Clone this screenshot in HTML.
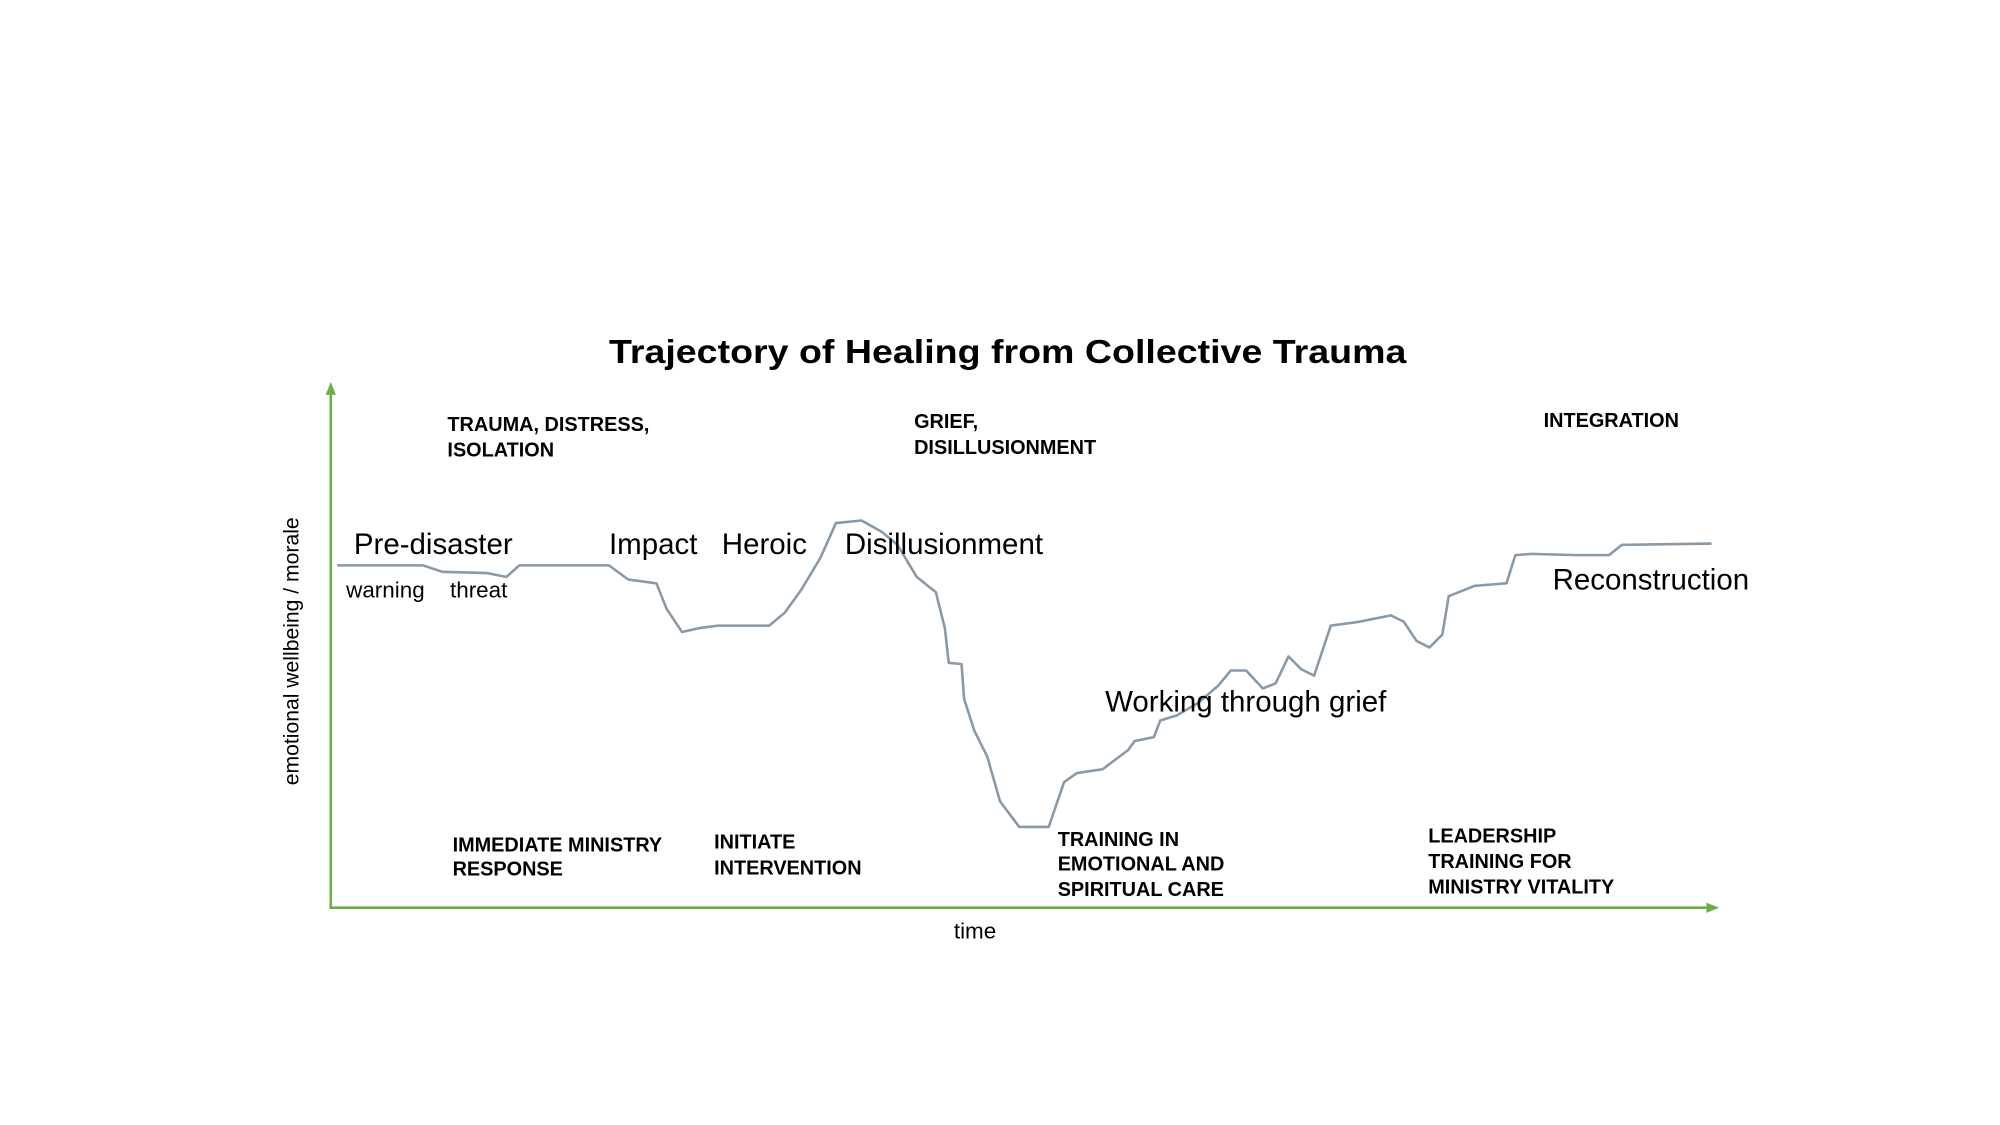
<!DOCTYPE html>
<html><head><meta charset="utf-8"><style>html,body{margin:0;padding:0;background:#fff}svg{display:block}</style></head>
<body>
<svg width="2000" height="1125" viewBox="0 0 1560 877.5" preserveAspectRatio="none" xmlns="http://www.w3.org/2000/svg">
<rect width="1560" height="877.5" fill="#fff"/>
<g font-family="Liberation Sans, sans-serif" fill="#000">
<text x="786" y="283" text-anchor="middle" font-size="26" font-weight="bold" textLength="622" lengthAdjust="spacingAndGlyphs">Trajectory of Healing from Collective Trauma</text>
</g>
<g stroke="#70ad47" stroke-width="2" fill="none">
<line x1="258" y1="304" x2="258" y2="709"/>
<line x1="257" y1="708" x2="1334" y2="708"/>
</g>
<polygon points="258,298 254,308 262,308" fill="#70ad47"/>
<polygon points="1341,708 1331,704 1331,712" fill="#70ad47"/>
<polyline fill="none" stroke="#8899a8" stroke-width="2" stroke-linejoin="round" points="263,441 330,441 345,446 380,447 395,450 405,441 475,441 490,452 512,455 520,475 532,493 545,490 560,488 600,488 612,478 625,460 640,435 652,408 672,406 688,415 700,425 715,450 730,462 737,490 740,517 750,518 752,545 760,570 770,590 780,625 795,645 818,645 830,610 840,603 860,600 880,585 885,578 900,575 905,562 918,558 935,548 950,535 960,523 972,523 985,537 995,533 1005,512 1015,522 1025,527 1038,488 1060,485 1085,480 1095,485 1105,500 1115,505 1125,495 1130,465 1150,457 1175,455 1182,433 1195,432 1230,433 1255,433 1265,425 1335,424"/>
<g font-family="Liberation Sans, sans-serif" fill="#000" font-size="23">
<text x="276" y="432">Pre-disaster</text>
<text x="475" y="432">Impact</text>
<text x="563" y="432">Heroic</text>
<text x="659" y="432">Disillusionment</text>
<text x="862" y="555">Working through grief</text>
<text x="1211" y="460">Reconstruction</text>
</g>
<g font-family="Liberation Sans, sans-serif" fill="#000" font-size="17.5">
<text x="270" y="466">warning</text>
<text x="351" y="466">threat</text>
<text x="744" y="732">time</text>
<text transform="translate(233,508) rotate(-90)" text-anchor="middle" font-size="16.5">emotional wellbeing / morale</text>
</g>
<g font-family="Liberation Sans Narrow, Liberation Sans, sans-serif" font-weight="bold" fill="#000" font-size="15.5">
<text x="349" y="336">TRAUMA, DISTRESS,</text>
<text x="349" y="356">ISOLATION</text>
<text x="713" y="334">GRIEF,</text>
<text x="713" y="354">DISILLUSIONMENT</text>
<text x="1204" y="333">INTEGRATION</text>
<text x="353" y="664">IMMEDIATE MINISTRY</text>
<text x="353" y="683">RESPONSE</text>
<text x="557" y="662">INITIATE</text>
<text x="557" y="682">INTERVENTION</text>
<text x="825" y="660">TRAINING IN</text>
<text x="825" y="679">EMOTIONAL AND</text>
<text x="825" y="699">SPIRITUAL CARE</text>
<text x="1114" y="657">LEADERSHIP</text>
<text x="1114" y="677">TRAINING FOR</text>
<text x="1114" y="697">MINISTRY VITALITY</text>
</g>
</svg>
</body></html>
